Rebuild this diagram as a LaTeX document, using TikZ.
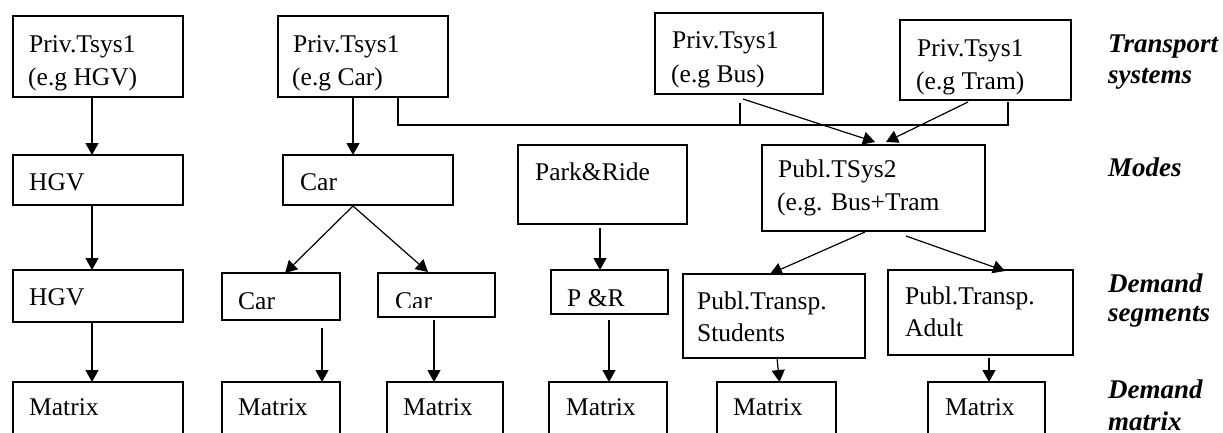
\documentclass[tikz,border=0pt]{standalone}
\usepackage{fontspec}
\setmainfont{Liberation Serif}
\usetikzlibrary{arrows.meta}

\tikzset{
  box/.style={draw, rectangle, line width=1.2pt, inner sep=0pt, outer sep=0pt},
  txt/.style={anchor=base west, inner sep=0pt, font=\fontsize{25.5}{30}\selectfont},
  lvl/.style={anchor=base west, inner sep=0pt, font=\fontsize{27}{32}\selectfont\bfseries\itshape},
  link/.style={line width=1.2pt, -{Triangle[width=13pt,length=12pt]}},
  rule/.style={line width=1.2pt},
}

% box from its left/top and right/bottom edges
\newcommand{\mkbox}[5]{%
  \node[box, minimum width={(#4-#2)*1pt}, minimum height={(#5-#3)*1pt}]
    (#1) at ({(#2+#4)/2},{(#3+#5)/2}) {};}

\begin{document}
\begin{tikzpicture}[x=1pt, y=-1pt]
\useasboundingbox (0,0) rectangle (1223,432);

% transport systems
\mkbox{hgvT}{13}{16}{183}{97}
\mkbox{carT}{278}{16}{448}{97}
\mkbox{busT}{655}{13}{823}{94}
\mkbox{tramT}{900}{20}{1071}{100}
\node[txt] (hgvTa) at (29,52) {Priv.Tsys1};
\node[txt] (hgvTb) at (28,85) {(e.g HGV)};
\node[txt] (carTa) at (293,52) {Priv.Tsys1};
\node[txt] (carTb) at (292,85) {(e.g Car)};
\node[txt] (busTa) at (672,48) {Priv.Tsys1};
\node[txt] (busTb) at (671,82) {(e.g Bus)};
\node[txt] (tramTa) at (917,56) {Priv.Tsys1};
\node[txt] (tramTb) at (916,89) {(e.g Tram)};

% modes
\mkbox{hgvM}{13}{155}{183}{205}
\mkbox{carM}{283}{155}{453}{205}
\mkbox{prM}{518}{145}{687}{224}
\mkbox{pubM}{762}{145}{985}{231}
\node[txt] (hgvMa) at (29,190) {HGV};
\node[txt] (carMa) at (300,190) {Car};
\node[txt] (prMa) at (535,180) {Park\&Ride};
\node[txt] (pubMa) at (778,177) {Publ.TSys2};
\node[txt] (pubMb) at (777,210) {(e.g. Bus+Tram};

% demand segments
\mkbox{hgvS}{13}{270}{183}{322}
\mkbox{carSa}{222}{273}{340}{320}
\mkbox{carSb}{378}{273}{495}{317}
\mkbox{prS}{551}{270}{668}{314}
\mkbox{stuS}{683}{274}{865}{358}
\mkbox{aduS}{888}{270}{1073}{355}
\node[txt] (hgvSa) at (29,305) {HGV};
\node[txt] (carSaa) at (238,309) {Car};
\begin{scope}
  \clip (380,275) rectangle (493,307);
  \node[txt] (carSba) at (395,309) {Car};
\end{scope}
\node[txt] (prSa) at (567,306) {P \&R};
\node[txt] (stuSa) at (697,309) {Publ.Transp.};
\node[txt] (stuSb) at (697,341) {Students};
\node[txt] (aduSa) at (905,304) {Publ.Transp.};
\node[txt] (aduSb) at (905,336) {Adult};

% demand matrices
\mkbox{matA}{13}{382}{183}{445}
\mkbox{matB}{222}{382}{340}{445}
\mkbox{matC}{387}{382}{503}{445}
\mkbox{matD}{549}{382}{667}{445}
\mkbox{matE}{717}{382}{836}{445}
\mkbox{matF}{928}{382}{1045}{445}
\node[txt] (matAa) at (29,415) {Matrix};
\node[txt] (matBa) at (238,415) {Matrix};
\node[txt] (matCa) at (403,415) {Matrix};
\node[txt] (matDa) at (566,415) {Matrix};
\node[txt] (matEa) at (733,415) {Matrix};
\node[txt] (matFa) at (945,415) {Matrix};

% level captions
\node[lvl] (lvlTa) at (1108,52) {Transport};
\node[lvl] (lvlTb) at (1108,83) {systems};
\node[lvl] (lvlM) at (1108,176) {Modes};
\node[lvl] (lvlSa) at (1108,292) {Demand};
\node[lvl] (lvlSb) at (1108,321) {segments};
\node[lvl] (lvlXa) at (1108,398) {Demand};
\node[lvl] (lvlXb) at (1108,430) {matrix};

% HGV chain
\draw[link] ([shift={(-6,0)}]hgvT.south) -- ([shift={(-6,0)}]hgvM.north);
\draw[link] ([shift={(-6,0)}]hgvM.south) -- ([shift={(-6,0)}]hgvS.north);
\draw[link] ([shift={(-6,0)}]hgvS.south) -- ([shift={(-6,0)}]matA.north);

% car chain
\draw[link] ([shift={(-10,0)}]carT.south) -- ([shift={(-15,0)}]carM.north);
\draw[link] ([shift={(-15,1)}]carM.south) -- ([shift={(4,0)}]carSa.north);
\draw[link] ([shift={(-15,1)}]carM.south) -- ([shift={(-8.5,-1)}]carSb.north);
\draw[link] ([shift={(41,8)}]carSa.south) -- ([shift={(41,0)}]matB.north);
\draw[link] ([shift={(-2.5,3)}]carSb.south) -- ([shift={(-11,0)}]matC.north);

% park and ride chain
\draw[link] ([shift={(-2.5,4)}]prM.south) -- ([shift={(-9.5,0)}]prS.north);
\draw[link] ([shift={(-0.5,6)}]prS.south) -- ([shift={(1,0)}]matD.north);

% public transport chain
\draw[link] ([shift={(4,5)}]busT.south) -- ([shift={(1.5,-3)}]pubM.north);
\draw[link] ([shift={(-17.5,2)}]tramT.south) -- ([shift={(12.5,-3)}]pubM.north);
\draw[link] ([shift={(-8.5,1)}]pubM.south) -- ([shift={(-4,0)}]stuS.north);
\draw[link] ([shift={(32.5,5)}]pubM.south) -- ([shift={(24.5,1)}]aduS.north);
\draw[link] ([shift={(3,0)}]stuS.south) -- ([shift={(3,0)}]matE.north);
\draw[link] ([shift={(8.5,3)}]aduS.south) -- ([shift={(2.5,0)}]matF.north);

% bracket joining the transport systems
\draw[rule] ([shift={(35,0)}]carT.south) |- ([shift={(22.5,25)}]tramT.south)
  -- ([shift={(22.5,2)}]tramT.south);
\draw[rule] ([shift={(1,9)}]busT.south) -- ([shift={(1,31)}]busT.south);
\end{tikzpicture}
\end{document}
